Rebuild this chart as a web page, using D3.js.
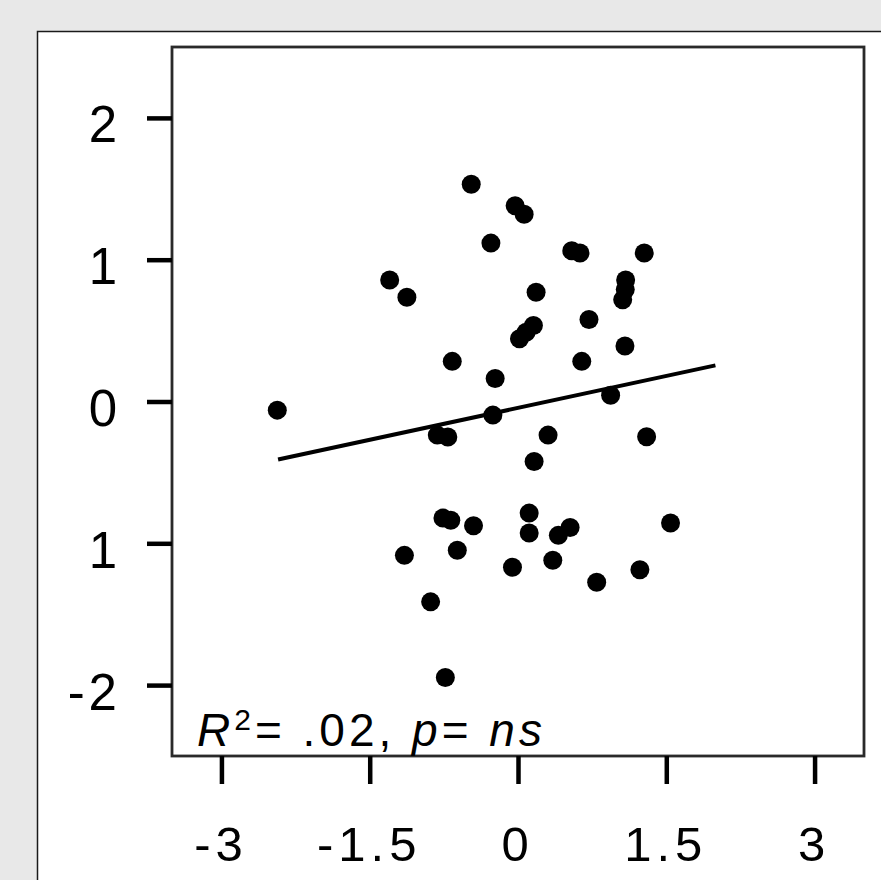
<!DOCTYPE html>
<html>
<head>
<meta charset="utf-8">
<script src="https://cdn.jsdelivr.net/npm/d3@7/dist/d3.min.js"></script>
<style>
  html, body { margin: 0; padding: 0; background: #e8e8e8; }
  svg { display: block; }
  text { font-family: Arial, "Liberation Sans", sans-serif; fill: #000; }
</style>
</head>
<body>
<svg id="chart" width="881" height="880"></svg>
<script>
// ---- data ----
const xValues = [-0.473, -0.029, 0.062, -0.274, 0.544, 0.627, 1.277, -1.298, -1.124, 1.089,
  1.085, 1.059, 0.183, 0.718, 0.156, 0.082, 0.015, -0.665, 0.645, 1.082,
  -0.231, -2.435, -0.254, 0.937, -0.816, -0.710, 0.304, 1.301, 0.163, -0.759,
  -0.680, -0.450, 0.113, 0.113, 0.527, 0.408, 1.543, -1.149, -0.614, -0.056,
  0.352, 0.796, 1.233, -0.884, -0.735];
const yValues = [1.532, 1.380, 1.321, 1.117, 1.063, 1.047, 1.047, 0.857, 0.735, 0.857,
  0.789, 0.717, 0.770, 0.578, 0.536, 0.489, 0.443, 0.283, 0.283, 0.391,
  0.162, -0.061, -0.096, 0.044, -0.237, -0.251, -0.237, -0.249, -0.423, -0.822,
  -0.838, -0.876, -0.787, -0.928, -0.888, -0.944, -0.857, -1.085, -1.049, -1.169,
  -1.120, -1.275, -1.186, -1.413, -1.947];
const fitX = [-2.427, 1.997];
const fitSlope = 0.150;
const fitIntercept = -0.045;
const xTicks = [-3, -1.5, 0, 1.5, 3];
const xTickLabels = ["-3", "-1.5", "0", "1.5", "3"];
const yTicks = [-2, -1, 0, 1, 2];
const yTickLabels = ["-2", "1", "0", "1", "2"];
const xDomain = [-3.5, 3.5];
const yDomain = [-2.5, 2.5];

// ---- layout ----
const svg = d3.select("#chart");
const box = { left: 172, top: 47, right: 864, bottom: 756 };

// white panel
svg.append("rect")
  .attr("x", 37.5).attr("y", 31.5)
  .attr("width", 900).attr("height", 900)
  .attr("fill", "#fff").attr("stroke", "#1a1a1a").attr("stroke-width", 1.5);

const x = d3.scaleLinear().domain(xDomain).range([box.left, box.right]);
const y = d3.scaleLinear().domain(yDomain).range([box.bottom, box.top]);

// plot box
svg.append("rect")
  .attr("x", box.left).attr("y", box.top)
  .attr("width", box.right - box.left).attr("height", box.bottom - box.top)
  .attr("fill", "#fff").attr("stroke", "#2a2a2a").attr("stroke-width", 2.8);

// y axis
const yAxis = d3.axisLeft(y).tickValues(yTicks)
  .tickFormat((d, i) => yTickLabels[i]).tickSize(25).tickPadding(26);
const gy = svg.append("g").attr("transform", `translate(${box.left},0)`).call(yAxis);
gy.select(".domain").remove();
gy.selectAll(".tick line").attr("stroke", "#000").attr("stroke-width", 4.5);
gy.selectAll(".tick text")
  .attr("font-size", 51).attr("letter-spacing", 4).attr("dy", "0.47em")
  .style("font-family", "Arial, 'Liberation Sans', sans-serif").attr("fill", "#000");

// x axis
const xAxis = d3.axisBottom(x).tickValues(xTicks)
  .tickFormat((d, i) => xTickLabels[i]).tickSize(28).tickPadding(0);
const gx = svg.append("g").attr("transform", `translate(0,${box.bottom})`).call(xAxis);
gx.select(".domain").remove();
gx.selectAll(".tick line").attr("stroke", "#000").attr("stroke-width", 4.5);
gx.selectAll(".tick text")
  .attr("font-size", 49).attr("letter-spacing", 5)
  .attr("y", 105).attr("dy", 0).attr("dx", -1)
  .style("font-family", "Arial, 'Liberation Sans', sans-serif").attr("fill", "#000");

// regression line
svg.append("line")
  .attr("x1", x(fitX[0])).attr("y1", y(fitIntercept + fitSlope * fitX[0]))
  .attr("x2", x(fitX[1])).attr("y2", y(fitIntercept + fitSlope * fitX[1]))
  .attr("stroke", "#000").attr("stroke-width", 4);

// points
svg.append("g").selectAll("circle")
  .data(xValues.map((v, i) => [v, yValues[i]]))
  .join("circle")
  .attr("cx", d => x(d[0])).attr("cy", d => y(d[1]))
  .attr("r", 9.5).attr("fill", "#000");

// annotation
const t = svg.append("text")
  .attr("x", 197).attr("y", 746)
  .attr("font-size", 46).attr("letter-spacing", 4);
t.append("tspan").attr("font-style", "italic").text("R");
t.append("tspan").attr("font-size", 30).attr("dy", -16).text("2");
t.append("tspan").attr("dy", 16).text("= .02,  ");
t.append("tspan").attr("font-style", "italic").text("p");
t.append("tspan").text("= ");
t.append("tspan").attr("font-style", "italic").text("ns");
</script>
</body>
</html>
